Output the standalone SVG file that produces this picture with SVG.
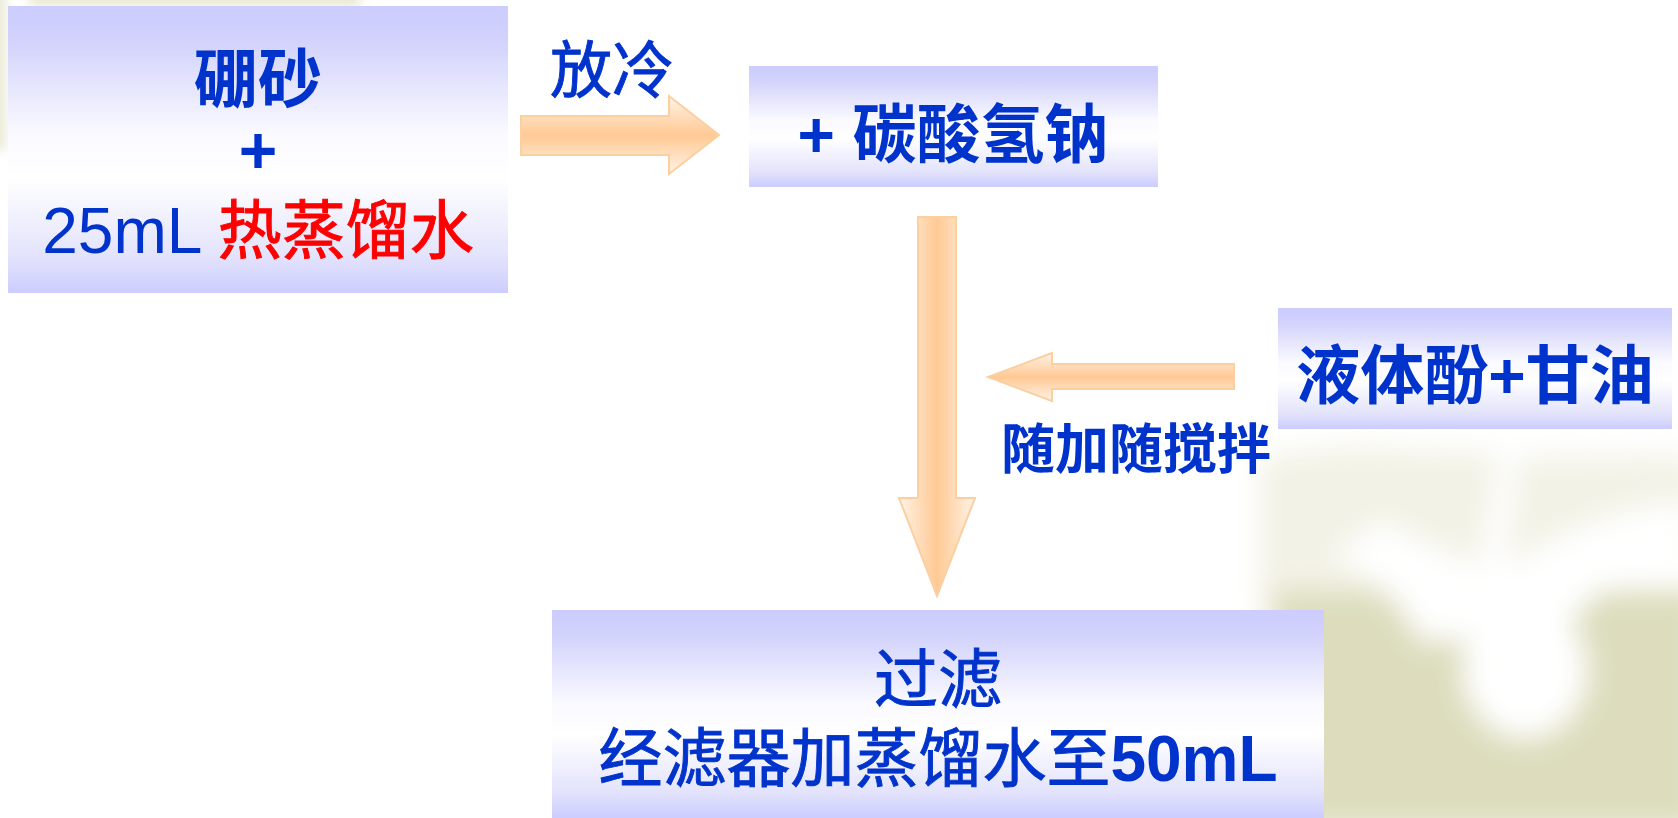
<svg xmlns="http://www.w3.org/2000/svg" width="1678" height="818" viewBox="0 0 1678 818">
  <defs>
    <linearGradient id="boxGrad" x1="0" y1="0" x2="0" y2="1">
      <stop offset="0" stop-color="#CCCCFF"/>
      <stop offset="0.12" stop-color="#D2D2FC"/>
      <stop offset="0.45" stop-color="#FAFAFF"/>
      <stop offset="0.6" stop-color="#FFFFFF"/>
      <stop offset="0.88" stop-color="#E2E2FC"/>
      <stop offset="1" stop-color="#CCCCFF"/>
    </linearGradient>
    <linearGradient id="arrowH" x1="0" y1="0" x2="0" y2="1">
      <stop offset="0" stop-color="#FFF3E6"/>
      <stop offset="0.5" stop-color="#FFC994"/>
      <stop offset="1" stop-color="#FFF3E6"/>
    </linearGradient>
    <linearGradient id="arrowV" x1="0" y1="0" x2="1" y2="0">
      <stop offset="0" stop-color="#FFF3E6"/>
      <stop offset="0.5" stop-color="#FFC994"/>
      <stop offset="1" stop-color="#FFF3E6"/>
    </linearGradient>
    <filter id="blur" x="-20%" y="-20%" width="140%" height="140%">
      <feGaussianBlur stdDeviation="14"/>
    </filter>
    <filter id="blurS" x="-20%" y="-20%" width="140%" height="140%">
      <feGaussianBlur stdDeviation="6"/>
    </filter>
  </defs>
  <style>
    .box { fill: url(#boxGrad); }
    .arrow { stroke: #FBCFA0; stroke-width: 2; stroke-linejoin: miter; }
    text { font-family: "Liberation Sans", "Noto Sans CJK SC", sans-serif; fill: #0033CC; text-anchor: middle; }
    .b { font-weight: bold; }
    .n { font-weight: normal; stroke: #0033CC; stroke-width: 0.9; }
    .n .b { stroke: none; }
    .red { fill: #FF0000; stroke: #FF0000; }
  </style>

  <rect x="0" y="0" width="1678" height="818" fill="#FFFFFF"/>

  <!-- background decoration -->
  <g id="background">
    <g filter="url(#blurS)">
      <rect x="30" y="-20" width="330" height="26" fill="#E6E6CE"/>
      <rect x="-20" y="-10" width="26" height="160" fill="#EAEAD6"/>
    </g>
    <g filter="url(#blur)">
      <path d="M1260,460 C1320,440 1420,450 1520,455 C1600,460 1660,450 1700,460 L1700,560 L1260,600 Z" fill="#F3F2E6"/>
      <rect x="1270" y="590" width="430" height="240" fill="#DDDDBE"/>
      <path d="M1380,520 C1420,540 1460,560 1490,570 L1520,560 C1550,540 1600,510 1690,500 L1690,560 C1620,570 1580,600 1560,640 L1420,640 C1400,600 1370,570 1330,560 Z" fill="#FFFFFF"/>
      <ellipse cx="1525" cy="670" rx="62" ry="68" fill="#FFFFFF"/>
      <path d="M1470,620 C1480,560 1490,500 1500,450 L1520,450 C1515,500 1505,560 1500,620 Z" fill="#FFFFFF"/>
    </g>
  </g>

  <!-- connectors -->
  <g id="connectors">
    <path class="arrow" fill="url(#arrowH)" d="M521,116 L669,116 L669,96 L719,135 L669,174 L669,155 L521,155 Z"/>
    <text class="n" x="612" y="93" font-size="62">放冷</text>
    <path class="arrow" fill="url(#arrowV)" d="M918,217 L956,217 L956,498 L975,498 L937,596 L899,498 L918,498 Z"/>
    <path class="arrow" fill="url(#arrowH)" d="M1234,364 L1052,364 L1052,353 L988,377 L1052,401 L1052,389 L1234,389 Z"/>
    <text class="b" x="1136" y="469" font-size="54">随加随搅拌</text>
  </g>

  <!-- nodes -->
  <g id="node-borax">
    <rect class="box" x="8" y="6" width="500" height="287"/>
    <text class="b" x="258" y="102" font-size="64">硼砂</text>
    <text class="b" x="258" y="173" font-size="66">+</text>
    <text x="258" y="253" font-size="64">25mL <tspan class="red">热蒸馏水</tspan></text>
  </g>

  <g id="node-bicarbonate">
    <rect class="box" x="749" y="66" width="409" height="121"/>
    <text class="b" x="953" y="157" font-size="64">+ 碳酸氢钠</text>
  </g>

  <g id="node-phenol">
    <rect class="box" x="1278" y="308" width="394" height="121"/>
    <text class="b" x="1475" y="398" font-size="64">液体酚+甘油</text>
  </g>

  <g id="node-filter">
    <rect class="box" x="552" y="610" width="772" height="208"/>
    <text class="n" x="938" y="702" font-size="64">过滤</text>
    <text class="n" x="938" y="781" font-size="64">经滤器加蒸馏水至<tspan class="b">50mL</tspan></text>
  </g>
</svg>
